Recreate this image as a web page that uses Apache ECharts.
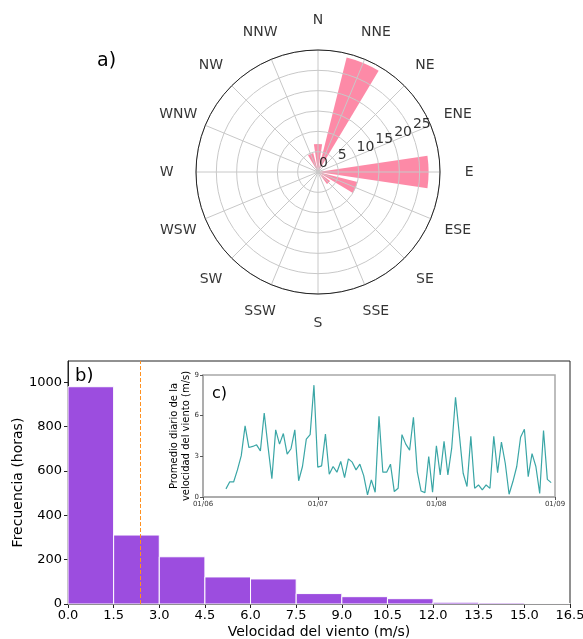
<!DOCTYPE html>
<html><head><meta charset="utf-8">
<script src="https://cdn.jsdelivr.net/npm/echarts@6/dist/echarts.min.js"></script>
<style>html,body{margin:0;padding:0;background:#fff}#c{width:583px;height:639px}</style>
</head><body><div id="c"></div>
<script>
// ---- a) wind rose ----
const directions = ['N','NNE','NE','ENE','E','ESE','SE','SSE','S','SSW','SW','WSW','W','WNW','NW','NNW'];
const roseValues = [6.9, 29.0, 0, 0, 27.2, 10.0, 3.7, 0, 0, 0, 0, 0, 0, 0, 0, 4.8];
const radiusTicks = [0, 5, 10, 15, 20, 25];
const radiusMax = 30;

// ---- b) histogram ----
const binEdges = [0, 1.5, 3.0, 4.5, 6.0, 7.5, 9.0, 10.5, 12.0, 13.5, 15.0, 16.5];
const binCounts = [980, 311, 213, 122, 113, 47, 33, 24, 8, 5, 2];
const meanSpeed = 2.37;

// ---- c) daily mean wind speed ----
const axisStartDate = '2023-06-01';
const axisEndDate = '2023-09-01';
const seriesStartDate = '2023-06-07';
const dailyMean = [
  0.6, 1.12, 1.11, 2.0, 3.05, 5.25, 3.65, 3.73, 3.85, 3.4, 6.2, 3.7, 1.35, 4.95, 3.9, 4.68, 3.16, 3.56, 4.95, 1.2,
  2.25, 4.27, 4.6, 8.25, 2.2, 2.3, 4.64, 1.68, 2.25, 1.83, 2.62, 1.43, 2.81, 2.57, 2.0, 2.42, 1.58, 0.15, 1.26, 0.35,
  5.95, 1.83, 1.83, 2.42, 0.4, 0.64, 4.6, 3.9, 3.46, 5.88, 1.88, 0.44, 0.32, 2.99, 0.35, 3.78, 1.63, 4.1, 1.63, 3.6,
  7.36, 4.6, 1.75, 0.77, 4.47, 0.64, 0.89, 0.52, 0.89, 0.64, 4.47, 1.8, 4.05, 2.49, 0.2, 1.14, 2.25, 4.4, 5.0, 1.5,
  3.2, 2.25, 0.27, 4.9, 1.3, 1.06
];
const insetYTitle = 'Promedio diario de la\nvelocidad del viento (m/s)';

function fmt(d){ return d.toISOString().slice(0,10); }
const dayCategories = [];
for (let d = new Date(axisStartDate + 'T00:00:00Z'); fmt(d) <= axisEndDate; d.setUTCDate(d.getUTCDate()+1)) dayCategories.push(fmt(d));
const offset = dayCategories.indexOf(seriesStartDate);
const lineData = dayCategories.map((c, i) => {
  const k = i - offset;
  return (k >= 0 && k < dailyMean.length) ? dailyMean[k] : null;
});
const isMonthStart = (i, v) => v.slice(8) === '01';

const histData = binCounts.map((c, i) => [binEdges[i], binEdges[i+1], c]);
const font = 'DejaVu Sans';

const chart = echarts.init(document.getElementById('c'), null, {renderer: 'canvas'});
chart.setOption({
  animation: false,
  textStyle: {fontFamily: font},
  polar: [
    {center: [318, 172], radius: 122},
    {center: [318, 172], radius: 122}
  ],
  angleAxis: [
    {polarIndex: 0, type: 'value', min: 0, max: 360, interval: 22.5, startAngle: 90, clockwise: true, z: 5,
     axisLine: {show: true, lineStyle: {color: '#222', width: 1}}, axisTick: {show: false}, axisLabel: {show: false},
     splitLine: {show: true, lineStyle: {color: '#c8c8c8', width: 1}}},
    {polarIndex: 1, type: 'category', data: directions, startAngle: 101.25, clockwise: true, boundaryGap: true,
     axisLine: {show: false}, axisTick: {show: false}, axisLabel: {show: false}, splitLine: {show: false}}
  ],
  radiusAxis: [
    {polarIndex: 0, type: 'value', min: 0, max: radiusMax, interval: 5, z: 5,
     axisLine: {show: false}, axisTick: {show: false}, axisLabel: {show: false},
     splitLine: {show: true, lineStyle: {color: '#c8c8c8', width: 1}}},
    {polarIndex: 1, type: 'value', min: 0, max: radiusMax,
     axisLine: {show: false}, axisTick: {show: false}, axisLabel: {show: false}, splitLine: {show: false}}
  ],
  grid: [
    {left: 68, top: 361, width: 502, height: 243, show: true, borderColor: '#222', borderWidth: 1,
     containLabel: false, outerBoundsMode: 'none'},
    {left: 203, top: 375, width: 352, height: 122, show: true, borderColor: '#a8a8a8', borderWidth: 1.5,
     backgroundColor: '#fff', z: 3, containLabel: false, outerBoundsMode: 'none'}
  ],
  xAxis: [
    {gridIndex: 0, type: 'value', min: 0, max: 16.5, interval: 1.5,
     axisLine: {show: true, lineStyle: {color: '#222'}}, axisTick: {show: true, length: 4, lineStyle: {color: '#222'}},
     axisLabel: {formatter: v => v.toFixed(1), fontSize: 13, color: '#000', margin: 5, fontFamily: font},
     splitLine: {show: false},
     name: 'Velocidad del viento (m/s)', nameLocation: 'middle', nameGap: 21, nameMoveOverlap: false,
     nameTextStyle: {fontSize: 14, color: '#000', fontFamily: font}},
    {gridIndex: 1, type: 'category', data: dayCategories, boundaryGap: false, z: 4,
     axisLine: {show: true, lineStyle: {color: '#a8a8a8', width: 1.5}},
     axisTick: {show: true, interval: isMonthStart, length: 3, lineStyle: {color: '#555'}},
     axisLabel: {interval: isMonthStart, formatter: v => v.slice(8) + '/' + v.slice(5,7), fontSize: 7, color: '#333', margin: 4, fontFamily: font},
     splitLine: {show: false}}
  ],
  yAxis: [
    {gridIndex: 0, type: 'value', min: 0, max: 1096, interval: 200,
     axisLine: {show: true, lineStyle: {color: '#222'}}, axisTick: {show: true, length: 4, lineStyle: {color: '#222'}},
     axisLabel: {fontSize: 13, color: '#000', margin: 6, showMaxLabel: false, formatter: v => String(v), fontFamily: font},
     splitLine: {show: false},
     name: 'Frecuencia (horas)', nameLocation: 'middle', nameGap: 43, nameMoveOverlap: false,
     nameTextStyle: {fontSize: 14, color: '#000', fontFamily: font}},
    {gridIndex: 1, type: 'value', min: 0, max: 9, interval: 3, z: 4,
     axisLine: {show: true, lineStyle: {color: '#a8a8a8', width: 1.5}},
     axisTick: {show: true, length: 3, lineStyle: {color: '#555'}},
     axisLabel: {fontSize: 7, color: '#333', margin: 4, showMaxLabel: true, showMinLabel: true, fontFamily: font},
     splitLine: {show: false}}
  ],
  graphic: [
    {type: 'text', left: 97, top: 52, style: {text: 'a)', fontSize: 19, fill: '#000', fontFamily: font}},
    {type: 'text', left: 75, top: 367, z: 10, style: {text: 'b)', fontSize: 18, fill: '#000', fontFamily: font}},
    {type: 'text', left: 212, top: 386, z: 10, style: {text: 'c)', fontSize: 16, fill: '#000', fontFamily: font}},
    {type: 'text', x: 180, y: 436, rotation: Math.PI / 2, z: 10,
     style: {text: insetYTitle, fontSize: 10, lineHeight: 12, fill: '#000', fontFamily: font, align: 'center', verticalAlign: 'middle'}}
  ],
  series: [
    {type: 'bar', coordinateSystem: 'polar', polarIndex: 1, data: roseValues, barWidth: '75%',
     itemStyle: {color: '#fd8aa7'}, z: 2},
    {type: 'scatter', coordinateSystem: 'polar', polarIndex: 0, clip: false, symbolSize: 1, silent: true, z: 6,
     itemStyle: {color: 'rgba(0,0,0,0)'},
     data: directions.map((d, i) => ({name: d, value: [radiusMax * 1.24, i * 22.5]})),
     label: {show: true, position: 'inside', formatter: '{b}', fontSize: 14, color: '#000', fontFamily: font, align: 'center', verticalAlign: 'middle'}},
    {type: 'scatter', coordinateSystem: 'polar', polarIndex: 0, clip: false, symbolSize: 1, silent: true, z: 6,
     itemStyle: {color: 'rgba(0,0,0,0)'},
     data: radiusTicks.map(r => ({name: String(r), value: [r, 67.5]})),
     label: {show: true, position: 'inside', formatter: '{b}', fontSize: 14, color: '#000', fontFamily: font, align: 'left', verticalAlign: 'bottom', offset: [1, -2]}},
    {type: 'custom', xAxisIndex: 0, yAxisIndex: 0, data: histData, z: 2,
     renderItem: (params, api) => {
       const p0 = api.coord([api.value(0), api.value(2)]);
       const p1 = api.coord([api.value(1), 0]);
       return {type: 'rect', shape: {x: p0[0], y: p0[1], width: p1[0] - p0[0], height: p1[1] - p0[1]},
               style: {fill: '#9c4ddf', stroke: '#fff', lineWidth: 1}};
     },
     markLine: {silent: true, symbol: ['none', 'none'], label: {show: false},
       lineStyle: {type: [4, 2], color: '#ff9120', width: 1}, data: [{xAxis: meanSpeed}]}},
    {type: 'line', xAxisIndex: 1, yAxisIndex: 1, data: lineData, showSymbol: false, connectNulls: false, z: 5,
     lineStyle: {color: '#3aa6a6', width: 1.2}, itemStyle: {color: '#3aa6a6'}}
  ]
});
</script></body></html>
